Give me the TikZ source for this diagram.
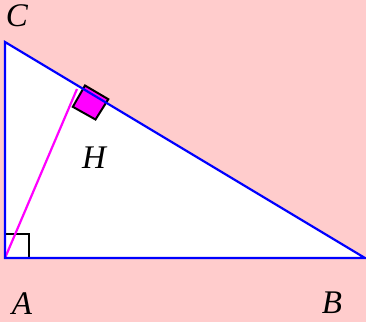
\documentclass[tikz,border=0pt]{standalone}
\usepackage{fontspec}
\setmainfont{Liberation Serif}
\definecolor{hmagenta}{RGB}{255,0,255}
\definecolor{sideblue}{RGB}{0,0,255}
\definecolor{bgpink}{RGB}{255,204,204}

\begin{document}
\begin{tikzpicture}[
		% Pixel-like axes: X is right, Y is down
		x={(1pt, 0pt)},
		y={(0pt, -1pt)},
		side/.style={sideblue, line width=2.2pt},
		altitude/.style={hmagenta, line width=2.2pt},
		rightmark/.style={draw=black, line width=2pt},
		vlabel/.style={font=\fontsize{33}{40}\selectfont\itshape, inner sep=0pt}
		]
		
		% ==========================================
		% 1. Background
		% ==========================================
		\fill[bgpink] (0,0) rectangle (366,322);
		\useasboundingbox (0,0) rectangle (366,322);
		
		% ==========================================
		% 2. The triangle
		% ==========================================
		\coordinate (A) at (5,258);
		\coordinate (B) at (365,258);
		\coordinate (C) at (5,42);
		\coordinate (Hfoot) at (77,89);
		
		\fill[white] (A) -- (B) -- (C) -- cycle;
		
		% Right angle at A
		\draw[rightmark] (A) rectangle ++(24,-24);
		
		% The altitude from A
		\draw[altitude] (A) -- (Hfoot);
		
		% Right angle at H
		\filldraw[rightmark, fill=hmagenta] (85,85.5) -- (108.3,99.2) -- (95.5,119.5) -- (72.8,106.8) -- cycle;
		
		\draw[side] (A) -- (B) -- (C) -- cycle;
		
		% ==========================================
		% 3. Labels
		% ==========================================
		\node[vlabel] (labC) at (17,16) {C};
		\node[vlabel] (labH) at (94,158) {H};
		\node[vlabel] (labA) at (22,304) {A};
		\node[vlabel] (labB) at (332,303) {B};
		
	\end{tikzpicture}
\end{document}
